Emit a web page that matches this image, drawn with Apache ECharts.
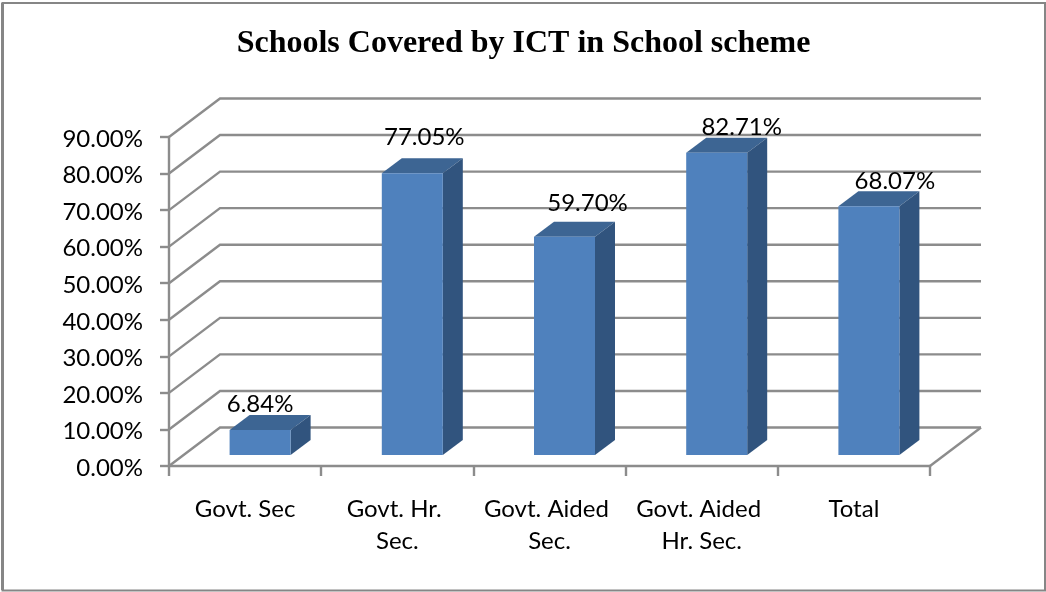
<!DOCTYPE html>
<html><head><meta charset="utf-8">
<style>html,body{margin:0;padding:0;background:#fff}#c{width:1046px;height:592px}</style>
<script src="https://cdn.jsdelivr.net/npm/echarts@6/dist/echarts.min.js"></script>
</head><body><div id="c"></div>
<script>
const categories = ['Govt. Sec', 'Govt. Hr. Sec.', 'Govt. Aided Sec.', 'Govt. Aided Hr. Sec.', 'Total'];
const coverage = [6.84, 77.05, 59.70, 82.71, 68.07];
const ticks = [0, 10, 20, 30, 40, 50, 60, 70, 80, 90];
const titleText = 'Schools Covered by ICT in School scheme';

// depth vectors of the fake 3D box (pixels)
const WALL = [51, -38.5], BAR_BASE = [15, -11], BAR_DEPTH = [20, -15], BAR_W = 61;
const LABEL_NUDGE = [[0, -26], [12, -36], [23, -33], [25, -25], [26, -25]];
const LINE = '#8c8c8c';
const FONT = 'Lato, "Noto Sans", sans-serif';

const chart = echarts.init(document.getElementById('c'), null, {renderer: 'canvas'});

function wallItem(params, api) {
  const p = api.coord([0, api.value(1)]);
  const half = api.size([1, 0])[0] / 2;
  const x0 = p[0] - half, y = p[1];
  const x1 = x0 + half * 2 * categories.length;
  const style = {stroke: LINE, lineWidth: 2.4, fill: null};
  const children = [
    {type: 'polyline', shape: {points: [[x0, y], [x0 + WALL[0], y + WALL[1]], [x1 + WALL[0], y + WALL[1]]]}, style}
  ];
  if (api.value(1) === 0) {
    children.push({type: 'line', shape: {x1: x1, y1: y, x2: x1 + WALL[0], y2: y + WALL[1]}, style});
  }
  return {type: 'group', children};
}

function barItem(params, api) {
  const i = params.dataIndex;
  const top = api.coord([i, api.value(1)]);
  const bot = api.coord([i, 0]);
  const l = top[0] + BAR_BASE[0] - BAR_W / 2, r = l + BAR_W;
  const t = top[1] + BAR_BASE[1], b = bot[1] + BAR_BASE[1];
  const d = BAR_DEPTH;
  return {type: 'group', children: [
    {type: 'polygon', shape: {points: [[l, t], [l + d[0], t + d[1]], [r + d[0], t + d[1]], [r, t]]}, style: {fill: '#3d6593'}},
    {type: 'polygon', shape: {points: [[r, t], [r + d[0], t + d[1]], [r + d[0], b + d[1]], [r, b]]}, style: {fill: '#31547e'}},
    {type: 'rect', shape: {x: l, y: t, width: BAR_W, height: b - t}, style: {fill: '#4f81bd'}},
    {type: 'text', style: {
      x: top[0] + BAR_BASE[0] + LABEL_NUDGE[i][0], y: t + LABEL_NUDGE[i][1],
      text: coverage[i].toFixed(2) + '%', fill: '#000', align: 'center', verticalAlign: 'middle',
      font: '24px ' + FONT
    }, z2: 10}
  ]};
}

chart.setOption({
  animation: false,
  backgroundColor: '#fff',
  title: {
    text: titleText, left: 518.5, top: 23, textAlign: 'center',
    textStyle: {fontFamily: '"Liberation Serif", serif', fontWeight: 'bold', fontSize: 32, color: '#000'}
  },
  graphic: [
    {type: 'rect', shape: {x: 2.5, y: 3, width: 1042.5, height: 587.5}, style: {fill: null, stroke: '#868686', lineWidth: 2}, silent: true, z: -1},
    {type: 'rect', shape: {x: 1, y: 3, width: 3, height: 587}, style: {fill: '#868686'}, silent: true, z: -1}
  ],
  grid: {left: 169, right: 116, top: 137, bottom: 126, containLabel: false},
  xAxis: {
    type: 'category', data: categories,
    axisLine: {show: true, lineStyle: {color: LINE, width: 2.4}},
    axisTick: {show: true, length: 10, alignWithLabel: false, lineStyle: {color: LINE, width: 2.4}},
    axisLabel: {interval: 0, margin: 27, width: 140, overflow: 'break', lineHeight: 32, color: '#000', fontSize: 24, fontFamily: FONT}
  },
  yAxis: {
    type: 'value', min: 0, max: 90, interval: 10,
    axisLine: {show: true, lineStyle: {color: LINE, width: 2.4}},
    axisTick: {show: true, length: 9, lineStyle: {color: LINE, width: 2.4}},
    splitLine: {show: false},
    axisLabel: {margin: 26, verticalAlign: 'top', lineHeight: 4, color: '#000', fontSize: 24, fontFamily: FONT, formatter: v => v.toFixed(2) + '%'}
  },
  series: [
    {type: 'custom', name: 'walls', clip: false, z: 1, silent: true, renderItem: wallItem, encode: {x: 0, y: 1}, data: ticks.map(t => [0, t])},
    {type: 'custom', name: 'coverage', clip: false, z: 2, silent: true, renderItem: barItem, encode: {x: 0, y: 1}, data: coverage.map((v, i) => [i, v])}
  ]
});
</script></body></html>
